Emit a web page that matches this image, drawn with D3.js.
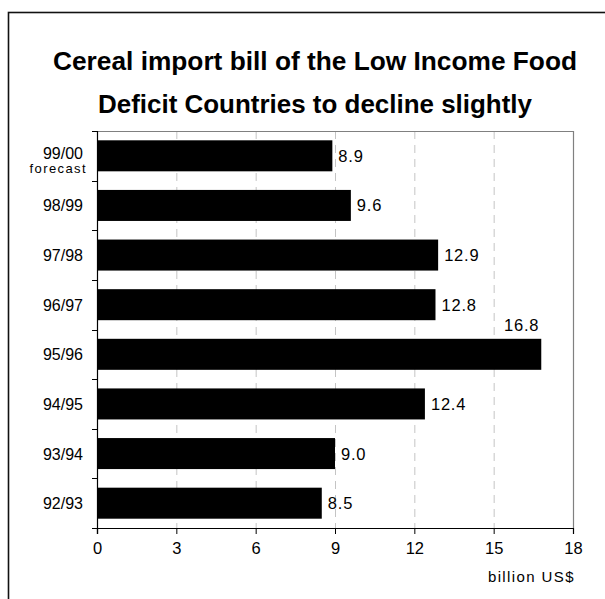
<!DOCTYPE html>
<html>
<head>
<meta charset="utf-8">
<script src="https://cdn.jsdelivr.net/npm/d3@7/dist/d3.min.js"></script>
<style>
  html, body { margin: 0; padding: 0; background: #fff; }
  svg { display: block; font-family: "Liberation Sans", Arial, sans-serif; }
</style>
</head>
<body>
<svg id="chart" width="605" height="599"></svg>
<script>
// Seasons, top to bottom
const seasons = ["99/00", "98/99", "97/98", "96/97", "95/96", "94/95", "93/94", "92/93"];
// Cereal import bill, billion US$
const importBill = [8.9, 9.6, 12.9, 12.8, 16.8, 12.4, 9.0, 8.5];
const valueLabels = ["8.9", "9.6", "12.9", "12.8", "16.8", "12.4", "9.0", "8.5"];
const xTicks = [0, 3, 6, 9, 12, 15, 18];
const titleLines = ["Cereal import bill of the Low Income Food", "Deficit Countries to decline slightly"];
const titleWidths = [524, 434];

const svg = d3.select("#chart");

// frame around the whole chart
svg.append("rect")
  .attr("x", 8.5).attr("y", 12.5)
  .attr("width", 640).attr("height", 640)
  .attr("fill", "none").attr("stroke", "#111").attr("stroke-width", 1.6);

// title
svg.append("g").selectAll("text").data(titleLines).join("text")
  .attr("x", 315).attr("y", (d, i) => 70 + i * 43)
  .attr("text-anchor", "middle")
  .attr("font-size", 25).attr("font-weight", "bold")
  .attr("textLength", (d, i) => titleWidths[i])
  .attr("lengthAdjust", "spacingAndGlyphs")
  .attr("fill", "#000")
  .text(d => d);

const plot = { left: 97, right: 573, top: 131, bottom: 528 };

const x = d3.scaleLinear().domain([0, 18]).range([plot.left, plot.right]);
const y = d3.scaleBand().domain(seasons).range([plot.top, plot.bottom])
  .paddingInner(0.375).paddingOuter(0.1875);

// dashed vertical gridlines
svg.append("g").selectAll("line").data(xTicks.filter(t => t > 0 && t < 18)).join("line")
  .attr("x1", d => x(d) + 0.5).attr("x2", d => x(d) + 0.5)
  .attr("y1", plot.top).attr("y2", plot.bottom)
  .attr("stroke", "#c4c4c4").attr("stroke-width", 1)
  .attr("stroke-dasharray", "8,6");

// top and right edges of the plot area
svg.append("path")
  .attr("d", `M${plot.left},${plot.top + 0.5}H${plot.right + 0.5}V${plot.bottom}`)
  .attr("fill", "none").attr("stroke", "#808080").attr("stroke-width", 1.2);

// bars
svg.append("g").selectAll("rect").data(importBill).join("rect")
  .attr("x", x(0))
  .attr("y", (d, i) => y(seasons[i]))
  .attr("width", d => x(d) - x(0))
  .attr("height", y.bandwidth())
  .attr("fill", "#000");

// value labels (the tallest bar carries its label above the bar end)
svg.append("g").selectAll("text").data(importBill).join("text")
  .attr("x", (d, i) => i === 4 ? x(d) - 2 : x(d) + 6)
  .attr("y", (d, i) => i === 4 ? y(seasons[i]) - 8 : y(seasons[i]) + y.bandwidth() / 2 + 6)
  .attr("text-anchor", (d, i) => i === 4 ? "end" : "start")
  .attr("font-size", 16.5).attr("letter-spacing", "0.8px")
  .attr("fill", "#000")
  .text((d, i) => valueLabels[i]);

// x axis
const xAxis = svg.append("g")
  .attr("transform", `translate(0,${plot.bottom})`)
  .call(d3.axisBottom(x).tickValues(xTicks).tickSize(6).tickPadding(8).tickFormat(d3.format("d")));
xAxis.select(".domain").attr("stroke", "#000").attr("stroke-width", 1.2);
xAxis.selectAll(".tick line").attr("stroke", "#000");
xAxis.selectAll(".tick text")
  .attr("font-size", 16.5).attr("font-family", "Liberation Sans, Arial, sans-serif").attr("fill", "#000");

// x axis unit
svg.append("text")
  .attr("x", plot.right + 2).attr("y", 582)
  .attr("text-anchor", "end")
  .attr("font-size", 15).attr("letter-spacing", "1.4px")
  .attr("fill", "#000")
  .text("billion US$");

// y axis: ticks at the band boundaries
const boundaries = seasons.map(s => y(s) - y.step() * y.paddingInner() / 2).concat([plot.bottom]);
svg.append("line")
  .attr("x1", plot.left + 0.5).attr("x2", plot.left + 0.5)
  .attr("y1", plot.top).attr("y2", plot.bottom + 6)
  .attr("stroke", "#000").attr("stroke-width", 1.2);
svg.append("g").selectAll("line").data(boundaries).join("line")
  .attr("x1", plot.left - 5).attr("x2", plot.left)
  .attr("y1", d => Math.round(d) + 0.5).attr("y2", d => Math.round(d) + 0.5)
  .attr("stroke", "#000");

// season labels
svg.append("g").selectAll("text").data(seasons).join("text")
  .attr("x", 83)
  .attr("y", (d, i) => y(d) + y.bandwidth() / 2 + 6 - (i === 0 ? 3 : 0))
  .attr("text-anchor", "end")
  .attr("font-size", 16)
  .attr("fill", "#000")
  .text(d => d);

// note under the first season
svg.append("text")
  .attr("x", 87).attr("y", y(seasons[0]) + y.bandwidth() / 2 + 17)
  .attr("text-anchor", "end")
  .attr("font-size", 13).attr("letter-spacing", "1.4px")
  .attr("fill", "#000")
  .text("forecast");
</script>
</body>
</html>
